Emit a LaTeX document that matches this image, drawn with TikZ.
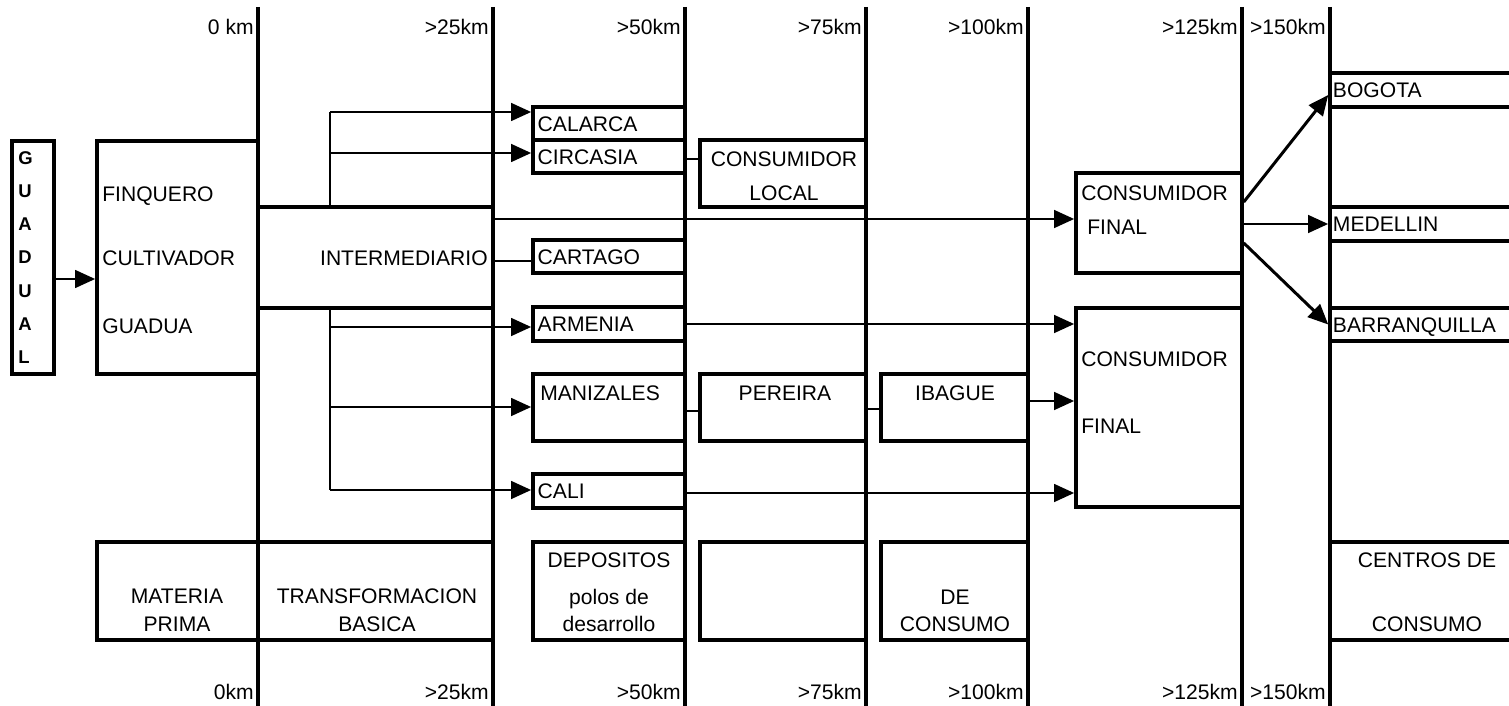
\documentclass[tikz,border=0pt]{standalone}
\usepackage{fontspec}
\setmainfont{Liberation Sans}
\usetikzlibrary{arrows.meta,positioning,fit}

\begin{document}
\begin{tikzpicture}[
  x=0.02cm, y=-0.02cm,
  font=\fontsize{12}{14}\selectfont,
  box/.style={draw, line width=2pt, inner sep=0pt, fit={#1}},
  lbl/.style={inner sep=0pt, text height=8.6pt, text depth=0pt},
  axis/.style={line width=2pt},
  arr/.style={-{Triangle[length=11.5pt,width=10pt]}, line width=1.7pt},
  branch/.style={line width=1.2pt},
  link/.style={line width=0.9pt}
]
\useasboundingbox (0,0) rectangle (1509,706);
\clip (0,0) rectangle (1509,706);

% distance axes
\foreach \x/\kmtop/\kmbot in {258/0 km/0km, 493/>25km/>25km, 685/>50km/>50km,
    866/>75km/>75km, 1028/>100km/>100km, 1242/>125km/>125km, 1330/>150km/>150km}{
  \draw[axis] (\x,7) -- (\x,712);
  \node[lbl, anchor=east] (top\x) at (\x-4,27) {\kmtop};
  \node[lbl, anchor=east] (bot\x) at (\x-4,692) {\kmbot};
}

% boxes
\node[box={(12,141) (54,374)}] (guadual) {};
\node[box={(97,141) (258,374)}] (finquero) {};
\node[box={(258,207) (493,308)}] (inter) {};
\node[box={(533,107) (685,140)}] (calarca) {};
\node[box={(533,140) (685,173)}] (circasia) {};
\node[box={(700,140) (866,207)}] (local) {};
\node[box={(533,240) (685,273)}] (cartago) {};
\node[box={(533,307) (685,341)}] (armenia) {};
\node[box={(533,374) (685,441)}] (manizales) {};
\node[box={(700,374) (866,441)}] (pereira) {};
\node[box={(881,374) (1028,441)}] (ibague) {};
\node[box={(533,474) (685,508)}] (cali) {};
\node[box={(1076,173) (1242,273)}] (final1) {};
\node[box={(1076,308) (1242,507)}] (final2) {};
\node[box={(1330,73) (1530,107)}] (bogota) {};
\node[box={(1330,207) (1530,241)}] (medellin) {};
\node[box={(1330,308) (1530,341)}] (barranquilla) {};

% bottom row
\node[box={(97,542) (258,640)}] (materia) {};
\node[box={(258,542) (493,640)}] (transf) {};
\node[box={(533,542) (685,640)}] (depositos) {};
\node[box={(700,542) (866,640)}] (vacio) {};
\node[box={(881,542) (1028,640)}] (deconsumo) {};
\node[box={(1330,542) (1530,640)}] (centros) {};

% texts
\node[inner sep=0pt, anchor=west, align=left,
      font=\bfseries\fontsize{10.5}{18.95}\selectfont] (tguadual) at (18,257.5)
  {G\\U\\A\\D\\U\\A\\L};
\node[lbl, anchor=west] (tfinq) at (102,194) {FINQUERO};
\node[lbl, anchor=west] (tcult) at (102,258) {CULTIVADOR};
\node[lbl, anchor=west] (tguad) at (102,326) {GUADUA};
\node[lbl, anchor=east] (tinter) at (488,258) {INTERMEDIARIO};
\node[lbl, right=3.5pt of calarca.west] (tcal) {CALARCA};
\node[lbl, right=3.5pt of circasia.west] (tcir) {CIRCASIA};
\node[lbl] (tcons) at (784,159) {CONSUMIDOR};
\node[lbl] (tlocal) at (784,193) {LOCAL};
\node[lbl, right=3.5pt of cartago.west] (tcar) {CARTAGO};
\node[lbl, right=3.5pt of armenia.west] (tarm) {ARMENIA};
\node[lbl, anchor=west] (tman) at (540,393) {MANIZALES};
\node[lbl] (tper) at (785,393) {PEREIRA};
\node[lbl] (tiba) at (955,393) {IBAGUE};
\node[lbl, right=3.5pt of cali.west] (tcali) {CALI};
\node[lbl, anchor=west] (tf1a) at (1081,193) {CONSUMIDOR};
\node[lbl, anchor=west] (tf1b) at (1087,227) {FINAL};
\node[lbl, anchor=west] (tf2a) at (1081,359) {CONSUMIDOR};
\node[lbl, anchor=west] (tf2b) at (1081,426) {FINAL};
\node[lbl, right=2.5pt of bogota.west] (tbog) {BOGOTA};
\node[lbl, right=2.5pt of medellin.west] (tmed) {MEDELLIN};
\node[lbl, right=2.5pt of barranquilla.west] (tbar) {BARRANQUILLA};

\node[lbl] (tmat) at (177,596) {MATERIA};
\node[lbl] (tprim) at (177,624) {PRIMA};
\node[lbl] (ttra) at (377,596) {TRANSFORMACION};
\node[lbl] (tbas) at (377,624) {BASICA};
\node[lbl] (tdep) at (609,560) {DEPOSITOS};
\node[lbl] (tpol) at (609,597) {polos de};
\node[lbl] (tdes) at (609,624) {desarrollo};
\node[lbl] (tde) at (955,597) {DE};
\node[lbl] (tcon) at (955,624) {CONSUMO};
\node[lbl] (tcen) at (1427,560) {CENTROS DE};
\node[lbl] (tcon2) at (1427,624) {CONSUMO};

% branch points and connector rows
\coordinate (b1) at (330,112);
\coordinate (b2) at (330,153);
\coordinate (b3) at (330,327);
\coordinate (b4) at (330,407);
\coordinate (b5) at (330,490);
\coordinate (rgua) at (0,279);
\coordinate (rloc) at (0,159);
\coordinate (rlong) at (0,219);
\coordinate (rcar) at (0,261);
\coordinate (rarm) at (0,324);
\coordinate (rman) at (0,411);
\coordinate (rper) at (0,409);
\coordinate (riba) at (0,401);
\coordinate (rcali) at (0,493);
\coordinate (rbog) at (0,202);
\coordinate (rbog2) at (0,95);
\coordinate (rbar) at (0,243);

\draw[arr] (guadual.east |- rgua) -- (finquero.west |- rgua);

\draw[branch] (b1) -- (b1 |- inter.north);
\draw[branch] (b3 |- inter.south) -- (b5);
\draw[arr] (b1) -- (b1 -| calarca.west);
\draw[arr] (b2) -- (b2 -| circasia.west);
\draw[arr] (b3) -- (b3 -| armenia.west);
\draw[arr] (b4) -- (b4 -| manizales.west);
\draw[arr] (b5) -- (b5 -| cali.west);

\draw[link] (circasia.east |- rloc) -- (local.west |- rloc);
\draw[link] (inter.east |- rcar) -- (cartago.west |- rcar);
\draw[link] (manizales.east |- rman) -- (pereira.west |- rman);
\draw[link] (pereira.east |- rper) -- (ibague.west |- rper);

\draw[arr] (inter.east |- rlong) -- (final1.west |- rlong);
\draw[arr] (armenia.east |- rarm) -- (final2.west |- rarm);
\draw[arr] (ibague.east |- riba) -- (final2.west |- riba);
\draw[arr] (cali.east |- rcali) -- (final2.west |- rcali);

\draw[arr] (final1.east |- rbog) -- (bogota.west |- rbog2);
\draw[arr] (final1.east |- medellin.west) -- (medellin.west);
\draw[arr] (final1.east |- rbar) -- (barranquilla.west);
\end{tikzpicture}
\end{document}
